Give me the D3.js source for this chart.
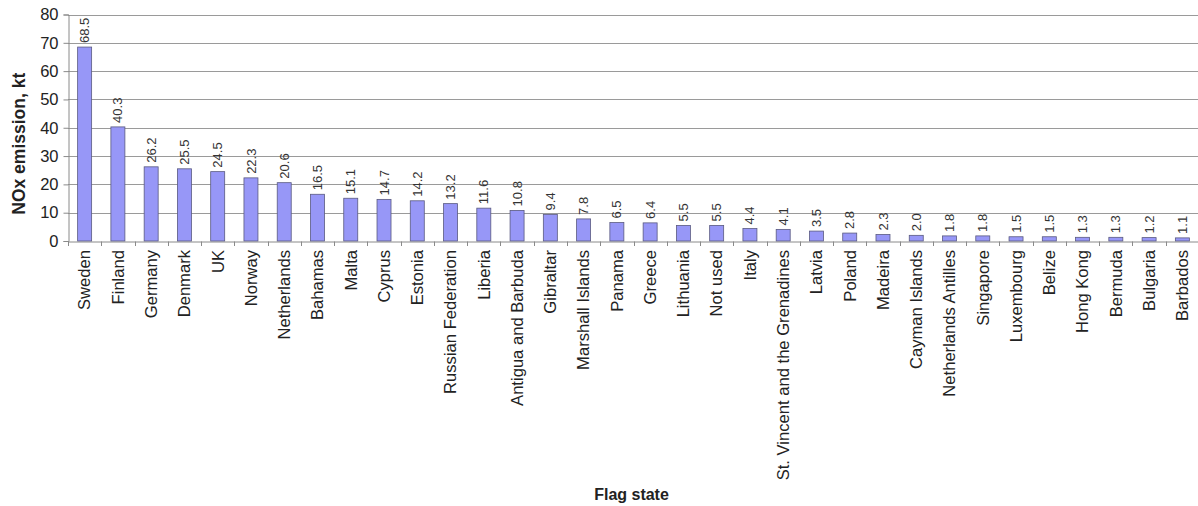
<!DOCTYPE html>
<html>
<head>
<meta charset="utf-8">
<script src="https://cdn.jsdelivr.net/npm/d3@7"></script>
<style>
  html, body { margin: 0; padding: 0; background: #fff; }
  svg { display: block; font-family: "Liberation Sans", Arial, sans-serif; }
</style>
</head>
<body>
<svg id="chart" width="1198" height="506"></svg>
<script>
const categories = ["Sweden","Finland","Germany","Denmark","UK","Norway","Netherlands","Bahamas","Malta","Cyprus","Estonia","Russian Federation","Liberia","Antigua and Barbuda","Gibraltar","Marshall Islands","Panama","Greece","Lithuania","Not used","Italy","St. Vincent and the Grenadines","Latvia","Poland","Madeira","Cayman Islands","Netherlands Antilles","Singapore","Luxembourg","Belize","Hong Kong","Bermuda","Bulgaria","Barbados"];
const values = [68.5,40.3,26.2,25.5,24.5,22.3,20.6,16.5,15.1,14.7,14.2,13.2,11.6,10.8,9.4,7.8,6.5,6.4,5.5,5.5,4.4,4.1,3.5,2.8,2.3,2.0,1.8,1.8,1.5,1.5,1.3,1.3,1.2,1.1];
const yTicks = [0,10,20,30,40,50,60,70,80];
const yTitle = "NOx emission, kt";
const xTitle = "Flag state";

(function () {
const svg = d3.select("#chart");
const mLeft = 68, mRight = 1199, mTop = 14.5, mBottom = 241;

const x = d3.scaleBand().domain(categories).range([mLeft, mRight]).paddingInner(0).paddingOuter(0);
const y = d3.scaleLinear().domain([0, 80]).range([mBottom, mTop]);

// gridlines
svg.append("g").selectAll("line").data(yTicks.filter(d => d > 0)).join("line")
  .attr("x1", mLeft).attr("x2", mRight)
  .attr("y1", d => Math.round(y(d)) + 0.5).attr("y2", d => Math.round(y(d)) + 0.5)
  .attr("stroke", "#9a9a9a").attr("stroke-width", 1);

// y axis
const yAxis = svg.append("g").attr("transform", `translate(${mLeft + 0.5},0)`)
  .call(d3.axisLeft(y).tickValues(yTicks).tickSize(5).tickPadding(5).tickFormat(d3.format("d")));
yAxis.select(".domain").attr("stroke", "#8a8a8a");
yAxis.selectAll(".tick line").attr("stroke", "#8a8a8a");
yAxis.selectAll("text").attr("font-size", 16.5).attr("fill", "#222").attr("font-family", "Liberation Sans, Arial, sans-serif");

// x axis
const xAxis = svg.append("g").attr("transform", `translate(0,${Math.round(mBottom) + 0.5})`)
  .call(d3.axisBottom(x).tickSize(0).tickFormat(""));
xAxis.select(".domain").attr("stroke", "#8a8a8a");
// boundary ticks
svg.append("g").selectAll("line").data(d3.range(categories.length + 1)).join("line")
  .attr("x1", i => Math.round(mLeft + i * x.step()) + 0.5)
  .attr("x2", i => Math.round(mLeft + i * x.step()) + 0.5)
  .attr("y1", Math.round(mBottom) + 0.5).attr("y2", Math.round(mBottom) + 5)
  .attr("stroke", "#8a8a8a");

// bars
const bw = 14;
svg.append("g").selectAll("rect").data(values).join("rect")
  .attr("x", (d, i) => x(categories[i]) + x.bandwidth() / 2 - bw / 2)
  .attr("y", d => y(d))
  .attr("width", bw)
  .attr("height", d => y(0) - y(d))
  .attr("fill", "#9797f7")
  .attr("stroke", "#5a5a80")
  .attr("stroke-width", 0.8);

// value labels
svg.append("g").selectAll("text").data(values).join("text")
  .attr("transform", (d, i) => `translate(${x(categories[i]) + x.bandwidth() / 2},${y(d) - 4}) rotate(-90)`)
  .attr("dy", "0.35em")
  .attr("text-anchor", "start")
  .attr("font-size", 13)
  .attr("fill", "#333")
  .text(d => d3.format(".1f")(d));

// category labels
svg.append("g").selectAll("text").data(categories).join("text")
  .attr("transform", d => `translate(${x(d) + x.bandwidth() / 2},${mBottom + 9}) rotate(-90)`)
  .attr("dy", "0.35em")
  .attr("text-anchor", "end")
  .attr("font-size", 16.6)
  .attr("fill", "#222")
  .text(d => d);

// axis titles
svg.append("text")
  .attr("transform", `translate(25,${(mTop + mBottom) / 2 + 16}) rotate(-90)`)
  .attr("text-anchor", "middle")
  .attr("font-size", 17.5).attr("font-weight", "bold").attr("fill", "#222")
  .text(yTitle);

svg.append("text")
  .attr("x", (mLeft + mRight) / 2 - 2).attr("y", 500)
  .attr("text-anchor", "middle")
  .attr("font-size", 16).attr("font-weight", "bold").attr("fill", "#222")
  .text(xTitle);
})();
</script>
</body>
</html>
